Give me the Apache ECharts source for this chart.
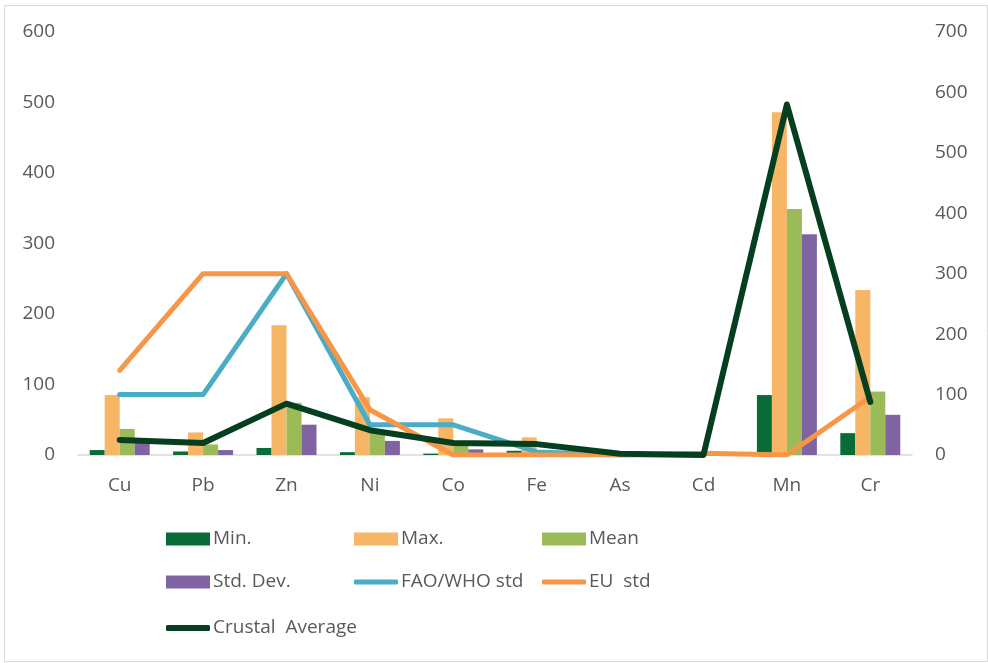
<!DOCTYPE html>
<html>
<head>
<meta charset="utf-8">
<script src="https://cdn.jsdelivr.net/npm/echarts@6/dist/echarts.min.js"></script>
<style>
  html, body { margin: 0; padding: 0; background: #fff; }
  #chart { width: 988px; height: 663px; }
</style>
</head>
<body>
<div id="chart"></div>
<script>
// Element concentrations (bars, left axis) and reference levels (lines, right axis)
const categories = ['Cu', 'Pb', 'Zn', 'Ni', 'Co', 'Fe', 'As', 'Cd', 'Mn', 'Cr'];
const minVals  = [7, 5, 10, 4, 2, 6, 0.3, 0.1, 85, 31];
const maxVals  = [85, 32, 184, 82, 52, 25, 1.5, 0.8, 486, 234];
const meanVals = [37, 15, 74, 35, 15, 3, 0.8, 0.3, 349, 90];
const stdVals  = [20, 7, 43, 20, 8, 2, 0.4, 0.2, 313, 57];
const faoWhoStd = [100, 100, 300, 50, 50, 5, 0, 0, null, null];
const euStd     = [140, 300, 300, 75, 0, 0, 0, 3, 0, 96];
const crustalAvg = [25, 20, 85, 41, 20, 18, 2, 0.2, 580, 88];
const leftTicks = [0, 100, 200, 300, 400, 500, 600];
const rightTicks = [0, 100, 200, 300, 400, 500, 600, 700];

const textColor = '#595959';
const fontFamily = '"Open Sans", "Noto Sans", sans-serif';
const colors = {
  min: '#096b38', max: '#f7b566', mean: '#9bbb59', std: '#8064a2',
  fao: '#4bacc6', eu: '#f79646', crustal: '#053f1f'
};

function barSeries(name, data, color) {
  return {
    name, type: 'bar', data, yAxisIndex: 0,
    barWidth: 15, barGap: '0%',
    itemStyle: { color }
  };
}
function lineSeries(name, data, color, width) {
  return {
    name, type: 'line', data, yAxisIndex: 1,
    symbol: 'none', connectNulls: false,
    lineStyle: { color, width, cap: 'round', join: 'round' },
    itemStyle: { color }
  };
}
// One legend entry per component so each sits in its own column/row slot
function legendItem(name, left, centerY, lineWidth) {
  const h = lineWidth ? lineWidth : 13;
  return {
    data: [{ name, icon: lineWidth ? 'roundRect' : 'rect' }],
    left, top: centerY - 11, padding: 0,
    itemWidth: 44, itemHeight: h, itemGap: 0,
    textStyle: { fontSize: 19, color: textColor, fontFamily, lineHeight: 22, padding: [0, 0, 0, -2] },
    selectedMode: false
  };
}

const chart = echarts.init(document.getElementById('chart'), null, { renderer: 'canvas' });
chart.setOption({
  animation: false,
  backgroundColor: '#ffffff',
  graphic: [{
    type: 'rect', left: 2, top: 3, silent: true,
    shape: { width: 983, height: 656 },
    style: { fill: 'none', stroke: '#d9d9d9', lineWidth: 1 }
  }],
  grid: { left: 78, right: 76, top: 32, bottom: 208, containLabel: false },
  legend: [
    legendItem('Min.', 166, 539),
    legendItem('Max.', 354, 539),
    legendItem('Mean', 542, 539),
    legendItem('Std. Dev.', 166, 582),
    legendItem('FAO/WHO std', 354, 582, 5),
    legendItem('EU  std', 542, 582, 5),
    legendItem('Crustal  Average', 166, 628, 6)
  ],
  xAxis: {
    type: 'category', data: categories,
    axisLine: { lineStyle: { color: '#d9d9d9', width: 1.5 } },
    axisTick: { show: false },
    axisLabel: { color: textColor, fontSize: 19, fontFamily, margin: 21 }
  },
  yAxis: [{
    type: 'value', min: leftTicks[0], max: leftTicks[leftTicks.length - 1], interval: 100,
    axisLine: { show: false }, axisTick: { show: false }, splitLine: { show: false },
    axisLabel: { color: textColor, fontSize: 19, fontFamily, margin: 23 }
  }, {
    type: 'value', min: rightTicks[0], max: rightTicks[rightTicks.length - 1], interval: 100,
    axisLine: { show: false }, axisTick: { show: false }, splitLine: { show: false },
    axisLabel: { color: textColor, fontSize: 19, fontFamily, margin: 23 }
  }],
  series: [
    barSeries('Min.', minVals, colors.min),
    barSeries('Max.', maxVals, colors.max),
    barSeries('Mean', meanVals, colors.mean),
    barSeries('Std. Dev.', stdVals, colors.std),
    lineSeries('FAO/WHO std', faoWhoStd, colors.fao, 5),
    lineSeries('EU  std', euStd, colors.eu, 5),
    lineSeries('Crustal  Average', crustalAvg, colors.crustal, 6)
  ]
});
</script>
</body>
</html>
